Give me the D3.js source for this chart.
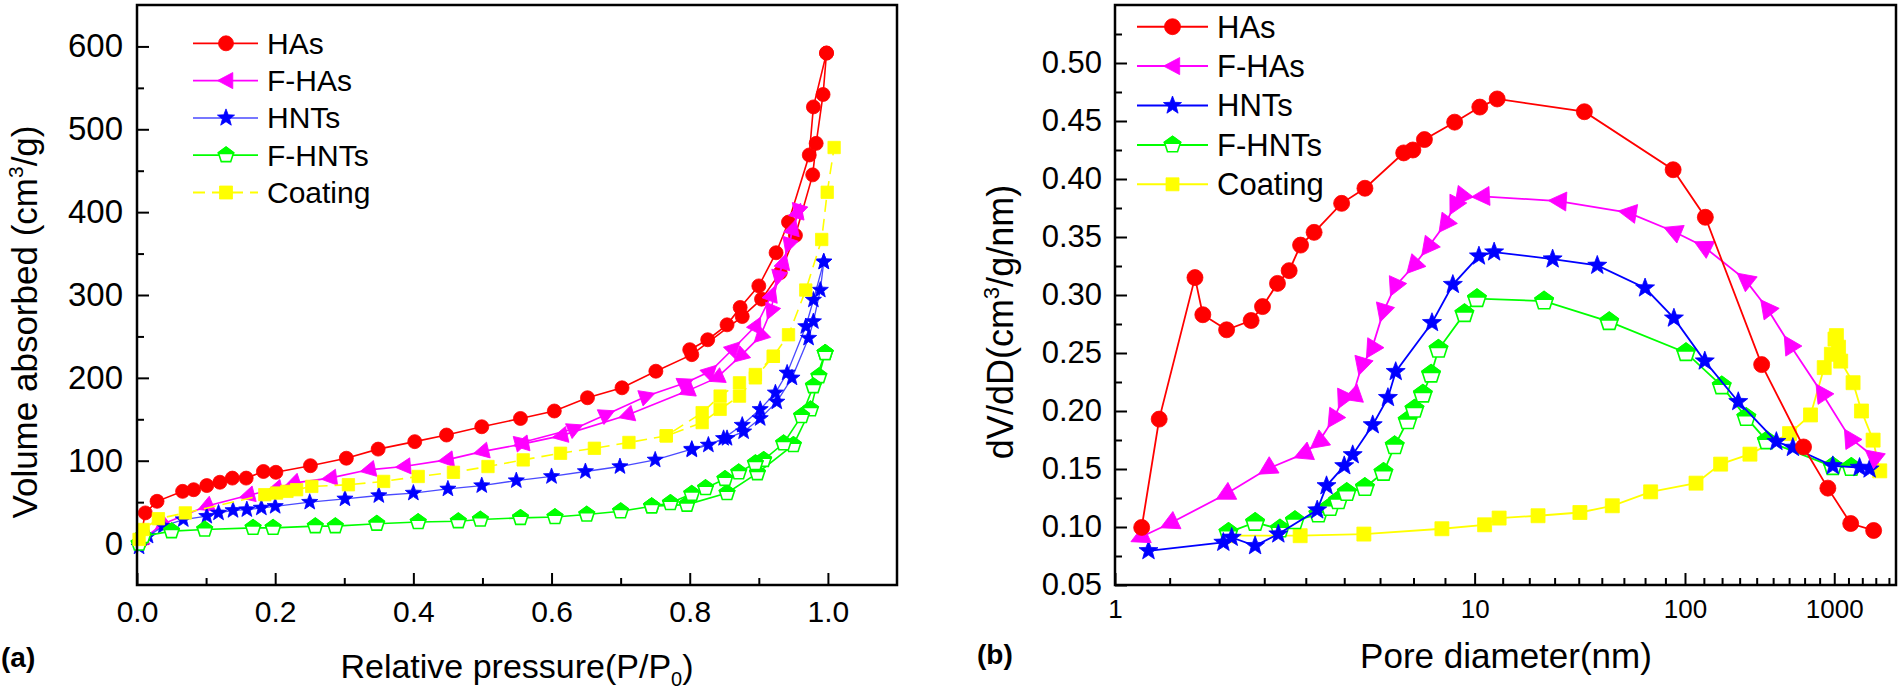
<!DOCTYPE html>
<html><head><meta charset="utf-8">
<script src="https://cdn.jsdelivr.net/npm/d3@7"></script>
<style>
html,body{margin:0;padding:0;background:#fff;}
svg{display:block;}
</style></head><body>
<svg id="chart" width="1900" height="699"></svg>
<script>
// ---------------- DATA ----------------
const seriesNames  = ["HAs","F-HAs","HNTs","F-HNTs","Coating"];
const seriesColors = ["#ff0000","#ff00ff","#0000ff","#00ff00","#ffff00"];
const seriesShapes = ["circle","triangle","star","pentagon","square"];

// (a) N2 isotherms: [P/P0, volume absorbed cm3/g]; adsorption ascending, desorption descending
const hasAds = [[0.004,1],[0.012,37],[0.029,51],[0.066,63],[0.082,65],[0.101,70],[0.120,74],[0.138,79],[0.158,79],[0.183,87],[0.201,86],[0.251,94],[0.303,103],[0.349,114],[0.402,123],[0.448,131],[0.499,141],[0.555,151],[0.604,160],[0.652,176],[0.702,188],[0.751,208],[0.803,228],[0.876,274],[0.904,295],[0.931,327],[0.953,372],[0.978,445],[0.983,483],[0.993,542],[0.998,592]];
const hasDes = [[0.998,592],[0.979,527],[0.973,469],[0.943,388],[0.925,351],[0.900,311],[0.873,285],[0.854,264],[0.826,246],[0.800,234]];
const fhasAds = [[0.004,2],[0.036,23],[0.100,45],[0.160,58],[0.200,66],[0.226,73],[0.279,79],[0.335,89],[0.386,93],[0.448,101],[0.499,111],[0.557,120],[0.613,130],[0.709,155],[0.796,184],[0.839,200],[0.873,226],[0.902,250],[0.917,280],[0.928,321],[0.943,360],[0.957,401]];
const fhasDes = [[0.957,401],[0.950,381],[0.936,340],[0.919,301],[0.897,264],[0.864,236],[0.830,208],[0.794,194],[0.738,178],[0.680,156],[0.634,139],[0.557,122]];
const hntsAds = [[0.003,-4],[0.016,9],[0.038,21],[0.067,29],[0.101,33],[0.118,37],[0.139,40],[0.159,41],[0.180,43],[0.200,45],[0.250,50],[0.301,54],[0.350,58],[0.400,61],[0.450,66],[0.499,70],[0.549,76],[0.600,81],[0.649,87],[0.699,93],[0.750,101],[0.803,114],[0.854,127],[0.878,135],[0.902,151],[0.926,171],[0.948,200],[0.972,248],[0.979,268],[0.989,306],[0.994,340]];
const hntsDes = [[0.994,340],[0.979,294],[0.968,262],[0.941,206],[0.924,182],[0.902,162],[0.876,143],[0.849,127],[0.827,119],[0.803,113]];
const fhntsAds = [[0.003,0],[0.009,9],[0.050,15],[0.098,17],[0.168,19],[0.197,19],[0.258,21],[0.287,21],[0.347,24],[0.407,26],[0.465,27],[0.497,29],[0.555,31],[0.605,32],[0.651,35],[0.700,39],[0.745,45],[0.796,47],[0.854,61],[0.898,85],[0.950,119],[0.975,162],[0.987,202],[0.996,230]];
const fhntsDes = [[0.996,230],[0.979,190],[0.962,154],[0.936,121],[0.907,101],[0.895,97],[0.871,86],[0.851,78],[0.823,67],[0.803,60],[0.772,49],[0.745,45]];
const coatAds = [[0.003,5],[0.009,17],[0.031,30],[0.070,37],[0.185,59],[0.202,61],[0.217,63],[0.231,65],[0.253,69],[0.306,71],[0.357,75],[0.407,81],[0.458,86],[0.508,93],[0.559,101],[0.613,109],[0.662,115],[0.712,122],[0.766,130],[0.818,146],[0.844,162],[0.872,178],[0.895,200],[0.921,226],[0.943,252],[0.968,306],[0.991,367],[0.999,424],[1.009,478]];
const coatDes = [[0.921,226],[0.895,204],[0.872,194],[0.844,178],[0.818,158],[0.766,130]];

// (b) pore size distribution: [pore diameter nm, dV/dD]
const hasPsd = [[1.475,0.0996],[1.80,0.193],[2.50,0.315],[2.66,0.283],[3.16,0.270],[3.70,0.278],[3.96,0.290],[4.31,0.310],[4.59,0.321],[4.87,0.343],[5.21,0.354],[5.93,0.379],[6.57,0.392],[7.70,0.4225],[7.98,0.425],[8.34,0.434],[9.32,0.449],[11.8,0.462],[18.0,0.469],[52.4,0.458],[93.9,0.408],[208,0.367],[530,0.240],[793,0.169],[956,0.1335],[2160,0.103],[3840,0.097]];
const fhasPsd = [[1.444,0.091],[2.0,0.103],[3.13,0.128],[4.07,0.150],[4.94,0.163],[5.32,0.173],[5.71,0.193],[5.96,0.210],[6.23,0.213],[6.48,0.239],[6.76,0.253],[7.09,0.285],[7.43,0.307],[8.0,0.325],[8.45,0.341],[9.0,0.361],[9.32,0.377],[9.53,0.384],[12.4,0.385],[41.5,0.381],[72,0.371],[93.9,0.355],[197,0.342],[431,0.3135],[561,0.289],[703,0.2575],[913,0.216],[2090,0.177],[3800,0.161]];
const hntsPsd = [[1.6,0.0795],[3.09,0.0867],[3.27,0.091],[3.79,0.0838],[4.33,0.0939],[5.29,0.1146],[5.53,0.1355],[6.0,0.1527],[6.23,0.1622],[6.79,0.188],[7.23,0.2115],[7.46,0.2339],[8.58,0.2761],[9.26,0.309],[11.5,0.3335],[16.9,0.337],[39.2,0.331],[58,0.3255],[80,0.306],[94.3,0.280],[205,0.243],[392,0.208],[620,0.1736],[724,0.1685],[990,0.1527],[2800,0.1513],[3540,0.1499]];
const fhntsPsd = [[3.2,0.0953],[3.79,0.1039],[4.37,0.0982],[4.73,0.1054],[5.32,0.1111],[5.62,0.1168],[5.84,0.1226],[6.07,0.1297],[6.57,0.134],[7.10,0.147],[7.43,0.170],[7.82,0.1915],[8.03,0.2015],[8.29,0.2145],[8.55,0.2317],[8.79,0.2532],[9.65,0.2839],[10.8,0.2968],[35.8,0.2948],[63.3,0.277],[105,0.2503],[298,0.2216],[439,0.1943],[561,0.1742],[990,0.152],[2200,0.1513]];
const coatPsd = [[3.2,0.0925],[4.86,0.0925],[6.54,0.0939],[8.9,0.0985],[13.5,0.1019],[18.7,0.1077],[33.4,0.1097],[50.5,0.1125],[64.7,0.1183],[82.7,0.1303],[158,0.1378],[292,0.1542],[460,0.1628],[703,0.1805],[839,0.1966],[931,0.2374],[980,0.2489],[1050,0.262],[1150,0.265],[1300,0.255],[1450,0.243],[2330,0.2244],[2940,0.200],[3800,0.1749],[4300,0.1484]];

// tick values
const xTicksA = [0,0.2,0.4,0.6,0.8,1.0];
const xMinorA = [0.1,0.3,0.5,0.7,0.9];
const yTicksA = [0,100,200,300,400,500,600];
const yMinorA = [50,150,250,350,450,550];
const xTicksB = [1,10,100,1000];
const xMinorB = [2,3,4,5,6,7,8,9,20,30,40,50,60,70,80,90,200,300,400,500,600,700,800,900,2000,3000,4000,5000];
const yTicksB = [0.05,0.10,0.15,0.20,0.25,0.30,0.35,0.40,0.45,0.50];
const yMinorB = [0.075,0.125,0.175,0.225,0.275,0.325,0.375,0.425,0.475,0.525];

// ---------------- LAYOUT ----------------
const FONT = "'Liberation Sans', Arial, Helvetica, sans-serif";
const svg = d3.select("#chart");
const boxA = {x0:137, x1:897, y0:5, y1:585};
const boxB = {x0:1115, x1:1896, y0:5, y1:585};

const xA = d3.scaleLinear().domain([0,1.1]).range([boxA.x0, boxA.x1]);
const yA = d3.scaleLinear().domain([-50,650]).range([boxA.y1, boxA.y0]);
// panel (b) x axis: each decade split into 9 equal index steps, laid out on a log axis
const decadeIndex = v => { const d = Math.floor(Math.log10(v) + 1e-9); return 9*d + v/Math.pow(10,d) + 8; };
const xLogB = d3.scaleLog().domain([9, 40.55]).range([boxB.x0, boxB.x1]);
const xB = v => xLogB(decadeIndex(v));
const yB = d3.scaleLinear().domain([0.05,0.55]).range([boxB.y1, boxB.y0]);

// ---------------- MARKERS ----------------
function markerPath(shape, s) {
  if (shape === "circle") return `M${s},0A${s},${s} 0 1,1 ${-s},0A${s},${s} 0 1,1 ${s},0Z`;
  if (shape === "square") return `M${-s},${-s}H${s}V${s}H${-s}Z`;
  if (shape === "triangle") return `M${-s},0L${0.8*s},${-0.95*s}L${0.8*s},${0.95*s}Z`;
  const pts = [];
  if (shape === "star") {
    for (let k = 0; k < 10; k++) { const r = k % 2 ? s*0.42 : s; const a = -Math.PI/2 + k*Math.PI/5; pts.push([r*Math.cos(a), r*Math.sin(a)]); }
  } else { // pentagon
    for (let k = 0; k < 5; k++) { const a = -Math.PI/2 + k*2*Math.PI/5; pts.push([s*Math.cos(a), s*Math.sin(a)]); }
  }
  return "M" + pts.map(p => p[0].toFixed(2) + "," + p[1].toFixed(2)).join("L") + "Z";
}
const defs = svg.append("defs");
defs.append("clipPath").attr("id","tophalf").append("rect").attr("x",-30).attr("y",-30).attr("width",60).attr("height",29);

function drawMarker(g, shape, color, x, y, s, angle) {
  const m = g.append("g").attr("transform", `translate(${x},${y})` + (angle ? ` rotate(${angle})` : ""));
  if (shape === "pentagon") {
    m.append("path").attr("d", markerPath(shape, s)).attr("fill","#fff").attr("stroke",color).attr("stroke-width",1.6);
    m.append("path").attr("d", markerPath(shape, s)).attr("fill",color).attr("stroke",color).attr("stroke-width",1.6).attr("clip-path","url(#tophalf)");
  } else {
    m.append("path").attr("d", markerPath(shape, s)).attr("fill", color).attr("stroke", color).attr("stroke-width", 0.8);
  }
}
// triangle orientation: tip points back toward the preceding point along the path
function angles(pts) {
  return pts.map((p, i) => {
    const a = i > 0 ? pts[i-1] : p, b = i > 0 ? p : pts[1];
    const dx = a[0]-b[0], dy = a[1]-b[1];
    return Math.atan2(dy, dx) * 180/Math.PI - 180;
  });
}

function drawSeries(g, data, xs, ys, idx, opt) {
  const color = opt.lineColor[idx] || seriesColors[idx], shape = seriesShapes[idx];
  const line = d3.line().x(d => xs(d[0])).y(d => ys(d[1]));
  data.forEach(branch => {
    g.append("path").attr("d", line(branch)).attr("fill","none").attr("stroke", color)
      .attr("stroke-width", opt.lw[idx]).attr("stroke-dasharray", opt.dash[idx] || null);
  });
  data.forEach(branch => {
    const px = branch.map(d => [xs(d[0]), ys(d[1])]);
    const ang = shape === "triangle" ? angles(px) : px.map(() => 0);
    px.forEach((p, i) => drawMarker(g, shape, seriesColors[idx], p[0], p[1], opt.size[idx], ang[i]));
  });
}

// ---------------- AXES ----------------
function styleAxis(g, fs) {
  g.select(".domain").remove();
  g.selectAll(".tick line").attr("stroke","#000").attr("stroke-width",2);
  g.selectAll(".tick text").attr("font-family", FONT).attr("font-size", fs).attr("fill","#000");
}
function drawFrame(box) {
  svg.append("rect").attr("x",box.x0).attr("y",box.y0).attr("width",box.x1-box.x0).attr("height",box.y1-box.y0)
    .attr("fill","none").attr("stroke","#000").attr("stroke-width",2.5);
}

// Panel (a) axes
let g;
g = svg.append("g").attr("transform",`translate(0,${boxA.y1})`).call(d3.axisBottom(xA).tickValues(xMinorA).tickSize(-7).tickFormat(""));
styleAxis(g, 30);
g = svg.append("g").attr("transform",`translate(0,${boxA.y1})`).call(d3.axisBottom(xA).tickValues(xTicksA).tickSize(-12).tickPadding(16).tickFormat(d3.format(".1f")));
styleAxis(g, 30);
g = svg.append("g").attr("transform",`translate(${boxA.x0},0)`).call(d3.axisLeft(yA).tickValues(yMinorA).tickSize(-7).tickFormat(""));
styleAxis(g, 33);
g = svg.append("g").attr("transform",`translate(${boxA.x0},0)`).call(d3.axisLeft(yA).tickValues(yTicksA).tickSize(-12).tickPadding(14).tickFormat(d3.format("d")));
styleAxis(g, 33);

// Panel (b) axes
g = svg.append("g").attr("transform",`translate(0,${boxB.y1})`).call(d3.axisBottom(xLogB).tickValues(xMinorB.map(decadeIndex)).tickSize(-7).tickFormat(""));
styleAxis(g, 26);
g = svg.append("g").attr("transform",`translate(0,${boxB.y1})`).call(d3.axisBottom(xLogB).tickValues(xTicksB.map(decadeIndex)).tickSize(-12).tickPadding(15).tickFormat((d,i) => String(xTicksB[i])));
styleAxis(g, 26);
g = svg.append("g").attr("transform",`translate(${boxB.x0},0)`).call(d3.axisLeft(yB).tickValues(yMinorB).tickSize(-7).tickFormat(""));
styleAxis(g, 31);
g = svg.append("g").attr("transform",`translate(${boxB.x0},0)`).call(d3.axisLeft(yB).tickValues(yTicksB).tickSize(-12).tickPadding(13).tickFormat(d3.format(".2f")));
styleAxis(g, 31);

// ---------------- SERIES ----------------
const optA = {lw:[1.6,1.6,1.3,1.6,1.6], lineColor:[null,null,"#4a4aff",null,null], dash:[null,null,null,null,"12,7"], size:[7,8.5,8.5,8,6.2]};
const optB = {lw:[1.8,1.8,1.8,1.8,1.8], lineColor:[null,null,null,null,null], dash:[null,null,null,null,null], size:[8,10,10,9.5,7]};
const dataA = [[hasAds,hasDes],[fhasAds,fhasDes],[hntsAds,hntsDes],[fhntsAds,fhntsDes],[coatAds,coatDes]];
const dataB = [[hasPsd],[fhasPsd],[hntsPsd],[fhntsPsd],[coatPsd]];
const gA = svg.append("g");
[0,1,2,3,4].forEach(i => drawSeries(gA, dataA[i], xA, yA, i, optA));
const gB = svg.append("g");
[4,3,2,1,0].forEach(i => drawSeries(gB, dataB[i], xB, yB, i, optB));

drawFrame(boxA);
drawFrame(boxB);

// ---------------- LEGENDS ----------------
function legend(x1, x2, xm, xt, y0, step, fs, opt) {
  seriesNames.forEach((name, i) => {
    const y = y0 + i*step;
    svg.append("line").attr("x1",x1).attr("x2",x2).attr("y1",y).attr("y2",y)
      .attr("stroke",opt.lineColor[i] || seriesColors[i]).attr("stroke-width",opt.lw[i] + 0.2).attr("stroke-dasharray", opt.dash[i] || null);
    drawMarker(svg, seriesShapes[i], seriesColors[i], xm, y, opt.size[i], 0);
    svg.append("text").attr("x",xt).attr("y",y).attr("dy","0.35em").attr("font-family",FONT).attr("font-size",fs).text(name);
  });
}
legend(193, 258, 226, 267, 43.3, 37.3, 30, {lw:optA.lw, lineColor:optA.lineColor, dash:optA.dash, size:[7.5,8.5,9,8,6.5]});
legend(1137, 1208, 1172.5, 1217, 26.7, 39.4, 31, {lw:optB.lw, lineColor:optB.lineColor, dash:optB.dash, size:[8,9,9.5,8.5,6.5]});

// ---------------- TITLES ----------------
let t = svg.append("text").attr("transform","translate(37,322) rotate(-90)").attr("text-anchor","middle")
  .attr("font-family",FONT).attr("font-size",35);
t.append("tspan").text("Volume absorbed (cm");
t.append("tspan").attr("font-size",21).attr("dy",-14).text("3");
t.append("tspan").attr("dy",14).text("/g)");

t = svg.append("text").attr("x",517).attr("y",678).attr("text-anchor","middle").attr("font-family",FONT).attr("font-size",34);
t.append("tspan").text("Relative pressure(P/P");
t.append("tspan").attr("font-size",20).attr("dy",8).text("0");
t.append("tspan").attr("dy",-8).text(")");

t = svg.append("text").attr("transform","translate(1013,322) rotate(-90)").attr("text-anchor","middle")
  .attr("font-family",FONT).attr("font-size",36);
t.append("tspan").text("dV/dD(cm");
t.append("tspan").attr("font-size",22).attr("dy",-14).text("3");
t.append("tspan").attr("dy",14).text("/g/nm)");

svg.append("text").attr("x",1506).attr("y",668).attr("text-anchor","middle").attr("font-family",FONT).attr("font-size",35).text("Pore diameter(nm)");

svg.append("text").attr("x",1).attr("y",667).attr("font-family",FONT).attr("font-size",28).attr("font-weight","bold").text("(a)");
svg.append("text").attr("x",977).attr("y",664).attr("font-family",FONT).attr("font-size",28).attr("font-weight","bold").text("(b)");
</script>
</body></html>
